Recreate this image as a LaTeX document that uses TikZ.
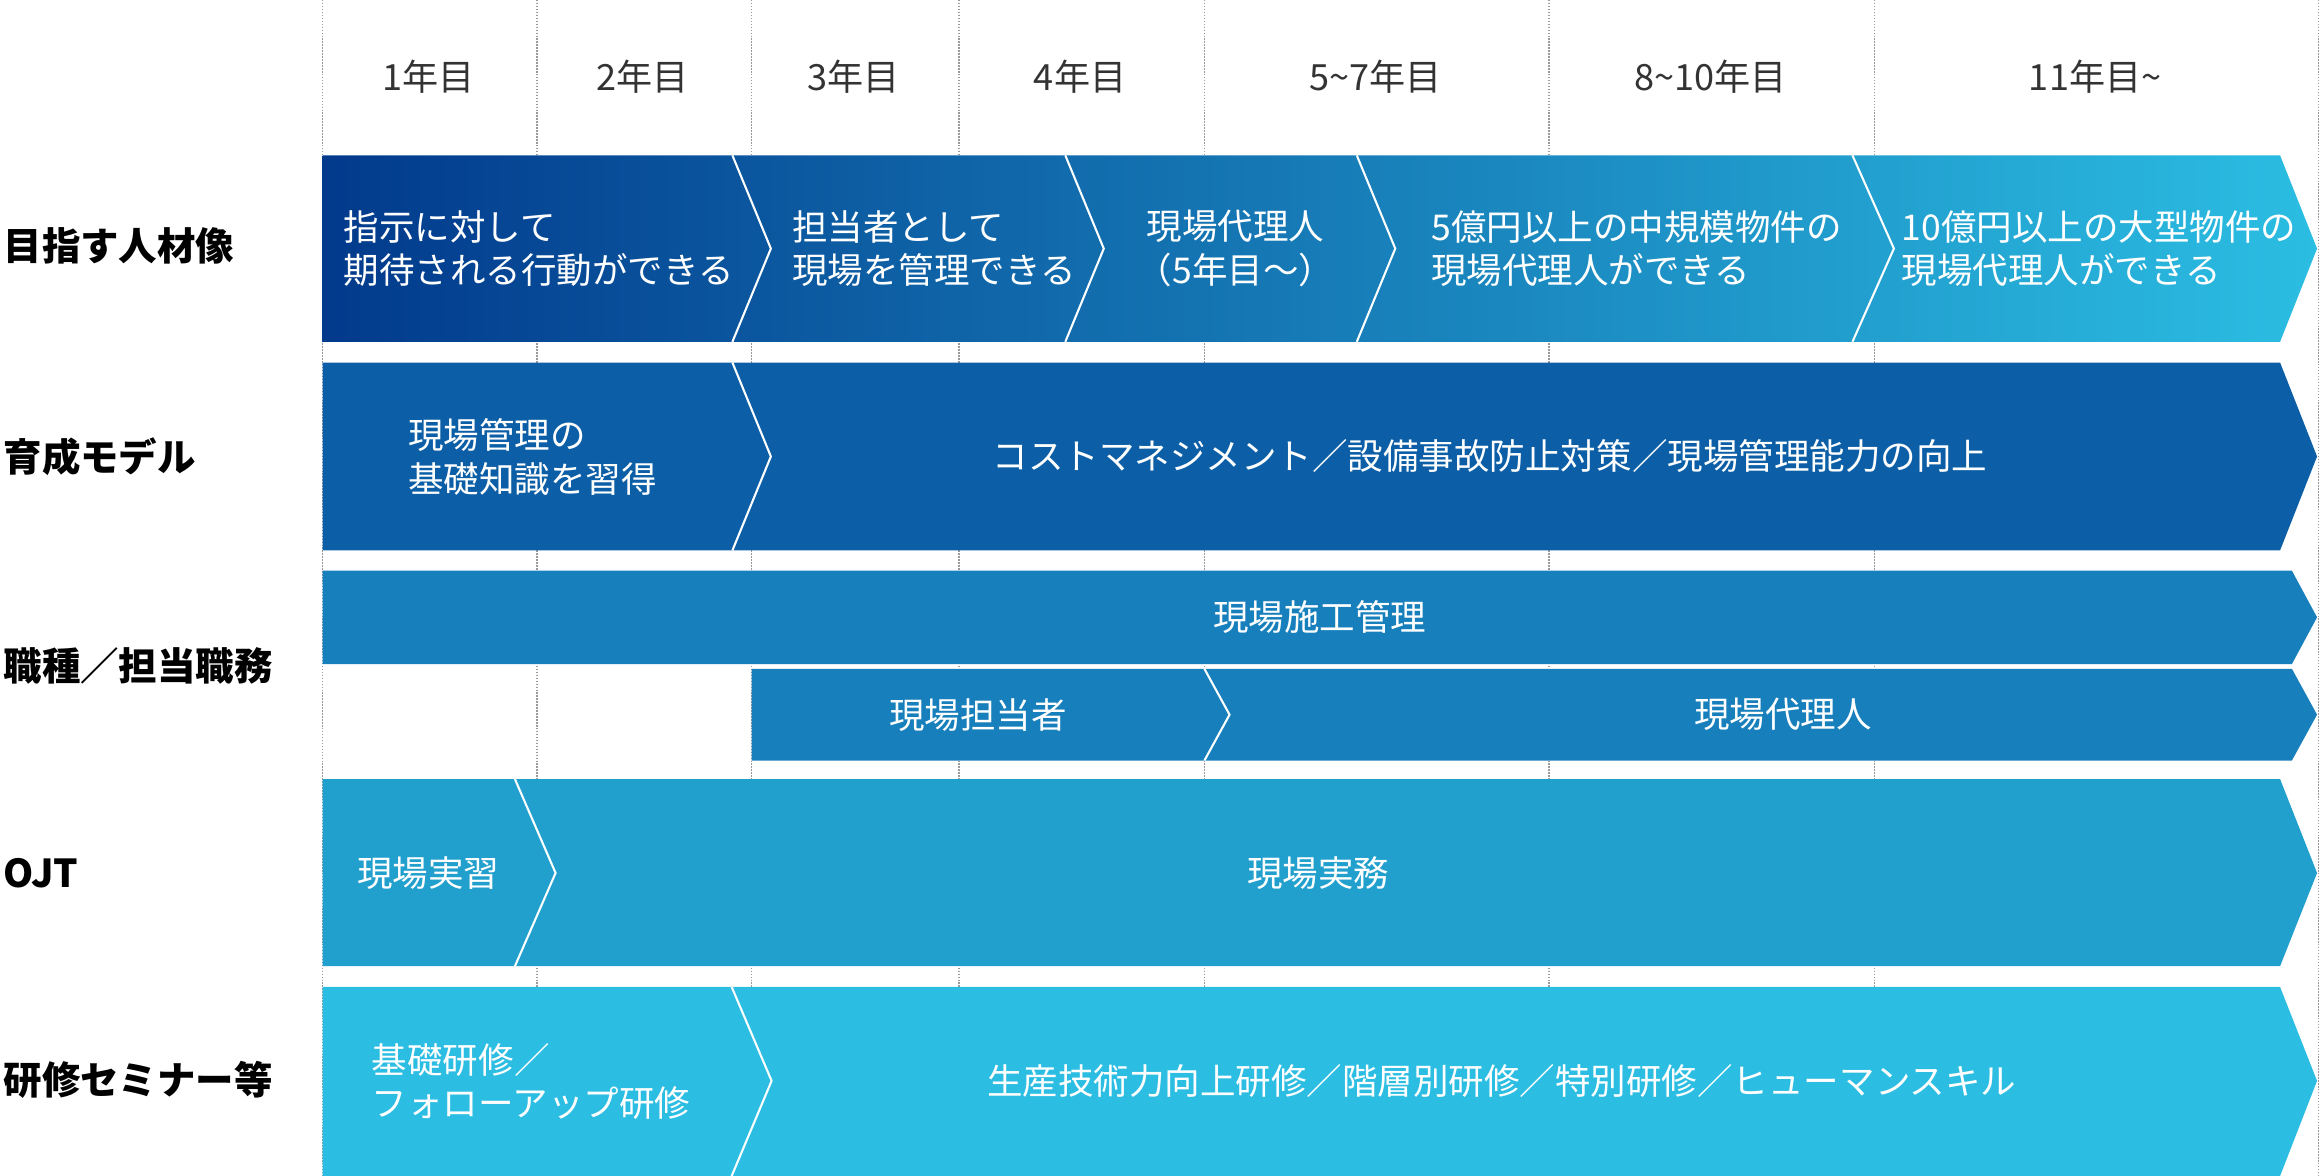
\documentclass[tikz,border=0pt]{standalone}
\usepackage{fontspec}
\setmainfont{Noto Sans CJK JP}
\newfontfamily\heavyfont{Noto Sans CJK JP Black}
\usepackage{tikz}
\definecolor{yeartext}{HTML}{333333}
\definecolor{gridgray}{HTML}{9A9A9A}
\definecolor{goalleft}{HTML}{023A8C}
\definecolor{goalright}{HTML}{2BBDE2}
\definecolor{modelblue}{HTML}{0C5FA6}
\definecolor{jobblue}{HTML}{177FBB}
\definecolor{ojtblue}{HTML}{21A0CE}
\definecolor{trainblue}{HTML}{2CBDE2}

\begin{document}
\begin{tikzpicture}[x=0.5pt,y=-0.5pt,
    year/.style={text=yeartext,inner sep=0pt,font=\fontsize{12.2}{14}\selectfont},
    rowname/.style={anchor=west,inner sep=0pt,font=\heavyfont\fontsize{13}{15}\selectfont},
    bartext/.style={text=white,inner sep=0pt,font=\fontsize{12}{14.75}\selectfont},
    chev/.style={draw=white,line width=0.7pt}]
            \useasboundingbox (0,0) rectangle (1568,794.8);

            \foreach \x in {218,363,508,648,814,1047,1267,1567}
                \draw[gridgray,line width=0.5pt,dash pattern=on 0.5pt off 0.5pt] (\x,0) -- (\x,794.8);

            \node[year] (y1) at (289.5,52) {1年目};
            \node[year] (y2) at (434.5,52) {2年目};
            \node[year] (y3) at (577,52) {3年目};
            \node[year] (y4) at (730,52) {4年目};
            \node[year] (y5) at (929.5,52) {5\textasciitilde 7年目};
            \node[year] (y8) at (1156,52) {8\textasciitilde 10年目};
            \node[year] (y11) at (1416,52) {11年目\textasciitilde};

            \node[rowname] (goal) at (2,166) {目指す人材像};
            \node[rowname] (model) at (2,308.5) {育成モデル};
            \node[rowname] (job) at (2,450) {職種／担当職務};
            \node[rowname] (ojt) at (2,590) {OJT};
            \node[rowname] (train) at (2,730) {研修セミナー等};

            \shade[left color=goalleft,right color=goalright] (218,105) -- (1541,105) -- (1566,168) -- (1541,231) -- (218,231) -- cycle;
            \foreach \a/\b in {495/521,720/746,917/943,1252/1280}
                \draw[chev] (\a,105) -- (\b,168) -- (\a,231);

            \fill[modelblue] (218,245) -- (1541,245) -- (1566,308.5) -- (1541,372) -- (218,372) -- cycle;
            \draw[chev] (495,245) -- (521,308.5) -- (495,372);

            \fill[jobblue] (218,385.7) -- (1549,385.7) -- (1566,417.2) -- (1549,448.8) -- (218,448.8) -- cycle;
            \fill[jobblue] (508,452) -- (1549,452) -- (1566,483) -- (1549,514) -- (508,514) -- cycle;
            \draw[chev] (814,452) -- (831,483) -- (814,514);

            \fill[ojtblue] (218,526.5) -- (1541,526.5) -- (1566,590) -- (1541,653) -- (218,653) -- cycle;
            \draw[chev] (348,526.5) -- (375.5,590) -- (348,653);

            \fill[trainblue] (218,667) -- (1541,667) -- (1566,730.5) -- (1541,794.8) -- (218,794.8) -- cycle;
            \draw[chev] (494.5,667) -- (521.5,730.5) -- (494.5,794.8);

            \node[bartext,anchor=west,align=left] (g1) at (232,168) {指示に対して\\期待される行動ができる};
            \node[bartext,anchor=west,align=left] (g2) at (535,168) {担当者として\\現場を管理できる};
            \node[bartext,align=center] (g3) at (835,168) {現場代理人\\（5年目～）};
            \node[bartext,anchor=west,align=left] (g4) at (967,168) {5億円以上の中規模物件の\\現場代理人ができる};
            \node[bartext,anchor=west,align=left] (g5) at (1285,168) {10億円以上の大型物件の\\現場代理人ができる};

            \node[bartext,anchor=west,align=left] (m1) at (275.5,309) {現場管理の\\基礎知識を習得};
            \node[bartext] (m2) at (1007,308.5) {コストマネジメント／設備事故防止対策／現場管理能力の向上};

            \node[bartext] (j1) at (892,417.2) {現場施工管理};
            \node[bartext] (j2) at (661,483) {現場担当者};
            \node[bartext] (j3) at (1205,483) {現場代理人};

            \node[bartext,anchor=west] (o1) at (241,590) {現場実習};
            \node[bartext] (o2) at (891,590) {現場実務};

            \node[bartext,anchor=west,align=left] (t1) at (251,731) {基礎研修／\\フォローアップ研修};
            \node[bartext] (t2) at (1015,730.5) {生産技術力向上研修／階層別研修／特別研修／ヒューマンスキル};
        \end{tikzpicture}
\end{document}
